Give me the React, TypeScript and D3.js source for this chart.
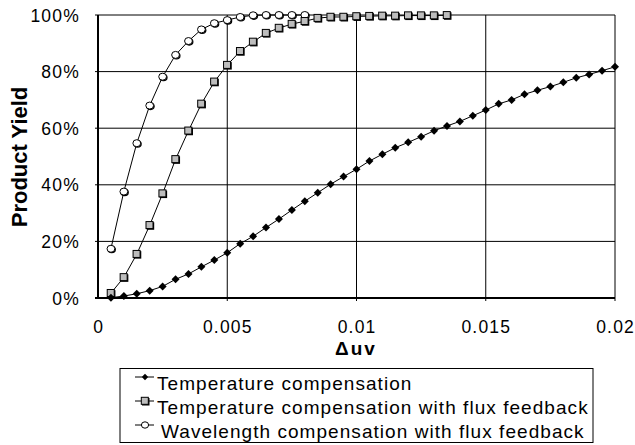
import * as d3 from "d3";

// x values step 0.0005
const tempComp = [
  0.1, 0.7, 1.5, 2.6, 4.1, 6.6, 8.5, 11.0, 13.4, 16.0,
  19.2, 21.8, 24.9, 27.9, 31.1, 34.2, 37.2, 40.2, 42.9, 45.5,
  48.4, 50.8, 53.1, 55.0, 57.0, 59.1, 60.8, 62.4, 64.4, 66.4,
  68.6, 70.0, 72.0, 73.4, 74.7, 76.2, 77.8, 79.0, 80.3, 81.7,
];
const tempFlux = [
  1.7, 7.3, 15.5, 25.7, 36.9, 49.0, 59.1, 68.6, 76.4, 82.3,
  87.2, 90.5, 93.6, 95.4, 96.8, 97.8, 98.9, 99.3, 99.3, 99.5,
  99.6, 99.7, 99.7, 99.8, 99.8, 99.8, 99.9,
];
const waveFlux = [
  17.4, 37.6, 54.7, 68.0, 78.2, 85.9, 90.8, 94.9, 97.1, 98.2,
  99.3, 99.9, 100, 100, 100, 100,
];
const xTicks = [0, 0.005, 0.01, 0.015, 0.02];
const yTicks = [0, 20, 40, 60, 80, 100];
const legendLabels = [
  "Temperature compensation",
  "Temperature compensation with flux feedback",
  " Wavelength compensation with flux feedback",
];

const toPoints = (vals: number[]) => vals.map((v, i) => ({ x: (i + 1) * 0.0005, y: v }));

export default function App() {
  const width = 635;
  const height = 445;
  const font = "'Liberation Sans', Arial, sans-serif";

  const x = d3.scaleLinear().domain([0, 0.02]).range([98, 615]);
  const y = d3.scaleLinear().domain([0, 100]).range([298, 15]);

  const line = d3
    .line<{ x: number; y: number }>()
    .x((d) => x(d.x))
    .y((d) => y(d.y));

  const diamonds = toPoints(tempComp);
  const squares = toPoints(tempFlux);
  const circles = toPoints(waveFlux);

  const diamond = (cx: number, cy: number, s = 4) =>
    `M${cx},${cy - s}L${cx + s},${cy}L${cx},${cy + s}L${cx - s},${cy}Z`;

  const circleMark = (cx: number, cy: number, key: any) => (
    <g key={key}>
      <ellipse cx={cx + 0.8} cy={cy + 0.8} rx={4.2} ry={3.8} fill="#000" />
      <ellipse cx={cx} cy={cy} rx={3.9} ry={3.5} fill="#fff" stroke="#000" strokeWidth={1} />
    </g>
  );
  const squareMark = (cx: number, cy: number, key: any) => (
    <g key={key}>
      <rect x={cx - 3} y={cy - 3} width={7.5} height={7.5} fill="#000" />
      <rect x={cx - 3.7} y={cy - 3.7} width={7} height={7} fill="#bdbdbd" stroke="#000" strokeWidth={1} />
    </g>
  );

  const legendY = [383, 407, 431];

  return (
    <svg width={width} height={height} style={{ position: "absolute", left: 0, top: 0, background: "#fff" }}>
      {/* grid */}
      {yTicks.slice(1).map((t) => (
        <line key={"gy" + t} x1={x(0) - 3} x2={x(0.02)} y1={y(t)} y2={y(t)} stroke="#000" strokeWidth={1} />
      ))}
      {xTicks.slice(1).map((t) => (
        <line key={"gx" + t} x1={x(t)} x2={x(t)} y1={y(100)} y2={y(0) + 3} stroke="#000" strokeWidth={1} />
      ))}
      {/* axes */}
      <line x1={x(0)} x2={x(0)} y1={y(100)} y2={y(0) + 1} stroke="#000" strokeWidth={2} />
      <line x1={x(0) - 3} x2={x(0.02)} y1={y(0)} y2={y(0)} stroke="#000" strokeWidth={2} />

      {/* tick labels */}
      {yTicks.map((t) => (
        <text
          key={"yl" + t}
          x={80}
          y={y(t) + 6.5}
          textAnchor="end"
          fontFamily={font}
          fontSize={17.5}
          letterSpacing={1.2}
          fill="#000"
        >
          {t + "%"}
        </text>
      ))}
      {xTicks.map((t) => (
        <text
          key={"xl" + t}
          x={x(t) + 0.6}
          y={333}
          textAnchor="middle"
          fontFamily={font}
          fontSize={17.5}
          letterSpacing={1.2}
          fill="#000"
        >
          {t === 0 ? "0" : String(t)}
        </text>
      ))}
      <text x={356} y={355} textAnchor="middle" fontFamily={font} fontSize={19} fontWeight="bold" letterSpacing={2}>
        Δuv
      </text>
      <text
        transform="translate(27,157) rotate(-90)"
        textAnchor="middle"
        fontFamily={font}
        fontSize={22}
        fontWeight="bold"
      >
        Product Yield
      </text>

      {/* series */}
      <path d={line(circles) || ""} fill="none" stroke="#000" strokeWidth={1} />
      <path d={line(squares) || ""} fill="none" stroke="#000" strokeWidth={1} />
      <path d={line(diamonds) || ""} fill="none" stroke="#000" strokeWidth={1} />
      {circles.map((d, i) => circleMark(x(d.x), y(d.y), "c" + i))}
      {squares.map((d, i) => squareMark(x(d.x), y(d.y), "s" + i))}
      {diamonds.map((d, i) => (
        <path key={"d" + i} d={diamond(x(d.x), y(d.y))} fill="#000" />
      ))}

      {/* legend */}
      <rect x={120} y={368.5} width={473} height={74} fill="#fff" stroke="#000" strokeWidth={1} />
      {legendLabels.map((lab, i) => {
        const ly = legendY[i] - 6;
        return (
          <g key={"lg" + i}>
            <line x1={135} x2={154} y1={ly} y2={ly} stroke="#000" strokeWidth={1} />
            {i === 0 && <path d={diamond(145, ly, 3.2)} fill="#000" />}
            {i === 1 && squareMark(145, ly, "ls")}
            {i === 2 && <ellipse cx={145} cy={ly} rx={3.6} ry={3.2} fill="#fff" stroke="#000" />}
            <text
              x={i === 2 ? 161 : 157}
              y={legendY[i] + 6.5}
              fontFamily={font}
              fontSize={19}
              letterSpacing={1.05}
              fill="#000"
            >
              {lab.trim()}
            </text>
          </g>
        );
      })}
    </svg>
  );
}
